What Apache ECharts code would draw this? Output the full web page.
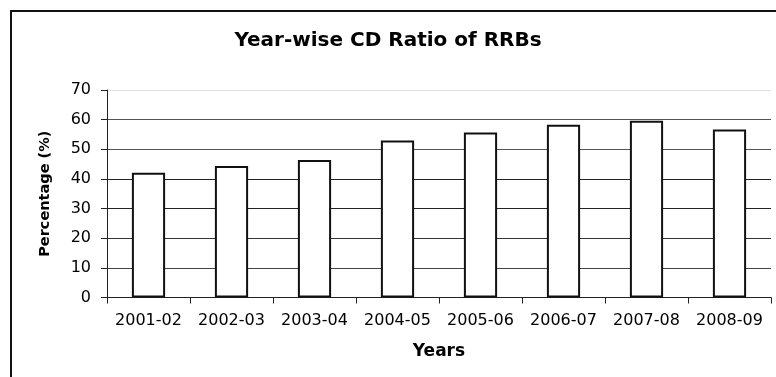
<!DOCTYPE html>
<html>
<head>
<meta charset="utf-8">
<script src="https://cdn.jsdelivr.net/npm/echarts@6/dist/echarts.min.js"></script>
<style>
html,body{margin:0;padding:0;background:#fff;}
#chart{width:776px;height:377px;}
</style>
</head>
<body>
<div id="chart"></div>
<script>
const categories = ['2001-02','2002-03','2003-04','2004-05','2005-06','2006-07','2007-08','2008-09'];
const cdRatio = [42.1, 44.4, 46.4, 53.0, 55.7, 58.3, 59.6, 56.7];
const titleText = 'Year-wise CD Ratio of RRBs';
const xName = 'Years';
const yName = 'Percentage (%)';

const chart = echarts.init(document.getElementById('chart'), null, {renderer:'canvas'});
const font = 'DejaVu Sans';
chart.setOption({
  animation: false,
  backgroundColor: '#fff',
  title: {
    text: titleText,
    left: 'center',
    top: 26,
    textStyle: {fontFamily: font, fontWeight: 'bold', fontSize: 20, color: '#000'}
  },
  graphic: [{
    type: 'rect',
    shape: {x: 11, y: 11, width: 900, height: 500},
    style: {fill: 'none', stroke: '#111', lineWidth: 2},
    silent: true
  }],
  grid: {left: 107, right: 5, top: 90, bottom: 79.5},
  xAxis: {
    type: 'category',
    data: categories,
    name: xName,
    nameLocation: 'middle',
    nameGap: 46,
    nameTextStyle: {fontFamily: font, fontWeight: 'bold', fontSize: 17, color: '#000'},
    axisLine: {show: true, lineStyle: {color: '#222', width: 1}},
    axisTick: {show: true, length: 6, alignWithLabel: false, lineStyle: {color: '#222'}},
    axisLabel: {fontFamily: font, fontSize: 16, color: '#000', margin: 15, interval: 0},
    splitLine: {show: false}
  },
  yAxis: {
    type: 'value',
    min: 0, max: 70, interval: 10,
    name: yName,
    nameLocation: 'middle',
    nameRotate: 90,
    nameGap: 54,
    nameTextStyle: {fontFamily: font, fontWeight: 'bold', fontSize: 14.5, color: '#000'},
    axisLine: {show: true, lineStyle: {color: '#222', width: 1}},
    axisTick: {show: true, length: 6, lineStyle: {color: '#222'}},
    axisLabel: {fontFamily: font, fontSize: 16, color: '#000', margin: 16},
    splitLine: {show: true, lineStyle: {color: ['#333','#444','#333','#222','#222','#555','#555','#e2e2e2'], width: 1}}
  },
  series: [{
    type: 'bar',
    data: cdRatio,
    barWidth: '40%',
    itemStyle: {color: '#fff', borderColor: '#111', borderWidth: 2}
  }]
});
</script>
</body>
</html>
